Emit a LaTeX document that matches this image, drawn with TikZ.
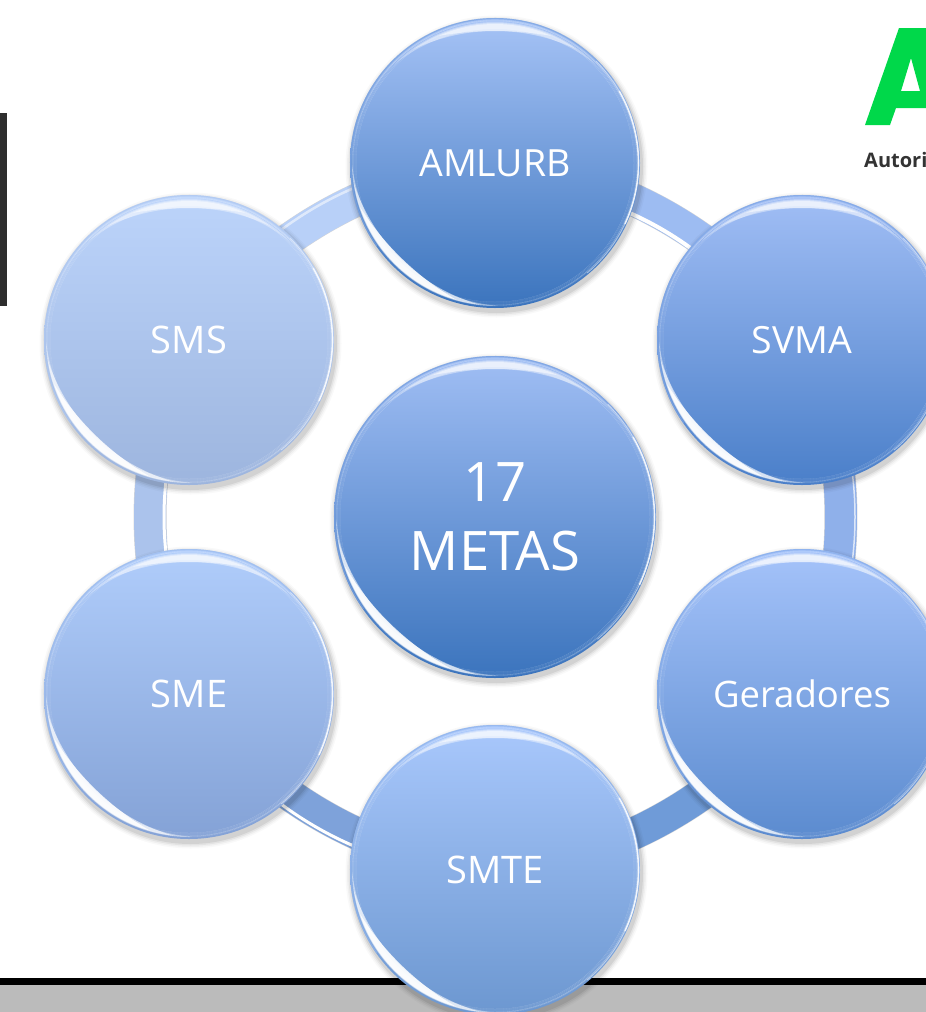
\documentclass[tikz,border=0pt]{standalone}
\usepackage{fontspec}
\setmainfont{Open Sans}
\usetikzlibrary{calc}
\definecolor{ringTL}{HTML}{B8D0F8}
\definecolor{ringTR}{HTML}{9DBCF2}
\definecolor{ringR}{HTML}{8FB0EA}
\definecolor{ringBR}{HTML}{6F9BD8}
\definecolor{ringBL}{HTML}{7EA2DA}
\definecolor{ringL}{HTML}{ABC3EC}
\definecolor{logogreen}{HTML}{00D84A}
\definecolor{edgegray}{HTML}{BBBBBB}
\definecolor{barDark}{HTML}{2E2E2E}
\tikzset{
  bubble/.style={circle,inner sep=0pt,text=white,align=center},
  ringseg/.style={line width=32pt,bend left=25,looseness=.89},
  ringshadow/.style={line width=33pt,bend left=25,looseness=.89,black,opacity=.16,xshift=2pt,yshift=-4pt},
  glow/.style={white,line cap=round},
}
% tapered crescent: #1 middle angle, #2 half span, #3 outer radius, #4 depth, #5 opacity
\newcommand{\mycrescent}[5]{%
  \pgfmathsetmacro{\myRo}{#3}%
  \pgfmathsetmacro{\myE}{(2*\myRo*(#4)*cos(#2)+(#4)*(#4))/(2*\myRo*(1-cos(#2))-2*(#4))}%
  \pgfmathsetmacro{\myC}{(#4)+\myE}%
  \pgfmathsetmacro{\myB}{\myRo+\myE}%
  \begin{scope}
    \clip (0,0) circle[radius=\myRo];
    \fill[white,opacity=#5,even odd rule] (0,0) circle[radius=\myRo] (#1+180:\myC) circle[radius=\myB];
  \end{scope}%
}
% #1 name, #2 x, #3 y, #4 r, #5 top, #6 bottom, #7 font size, #8 text
\newcommand{\mybubble}[8]{%
  \definecolor{tc}{HTML}{#5}\definecolor{bc}{HTML}{#6}%
  \pgfmathsetmacro{\myleading}{#7*1.26}%
  \foreach \e/\o in {6/.025,4.5/.035,3/.05,1.5/.07}{
    \fill[black,opacity=\o] (#2+1.5,#3+3.5) circle[radius=#4+\e];}
  \node[bubble,minimum size=2*#4 pt,top color=tc,bottom color=bc,font=\fontsize{#7}{\myleading}\selectfont] (#1) at (#2,#3) {#8};
  \begin{scope}[shift={(#2,#3)},x=1pt,y=1pt]
    \pgfmathsetmacro{\R}{#4}
    % rim
    \draw[tc!60!bc,line width=1.2pt,opacity=.7] (35:\R-.6) arc[start angle=35,end angle=215,radius=\R-.6];
    % top highlight
    \mycrescent{90}{46}{\R-4}{7}{.3}
    \mycrescent{90}{36}{\R-5}{8}{.4}
    \mycrescent{90}{24}{\R-6}{7}{.5}
    % lower-left highlight
    \mycrescent{226}{46}{\R-2}{6}{.4}
    \mycrescent{226}{38}{\R-2.5}{8}{.6}
    \mycrescent{226}{28}{\R-3}{8.5}{.85}
    % right edge
    \draw[glow,line width=.8,opacity=.5] (45:\R-1.5) arc[start angle=45,end angle=-50,radius=\R-1.5];
    \draw[glow,line width=1.6,opacity=.8] (30:\R-1.5) arc[start angle=30,end angle=-25,radius=\R-1.5];
  \end{scope}%
}
\begin{document}
\begin{tikzpicture}[x=1pt,y=-1pt]
\useasboundingbox (0,0) rectangle (926,1012);
\clip (0,0) rectangle (926,1012);
\fill[white] (0,0) rectangle (926,1012);
% page furniture
\fill[barDark] (0,113) rectangle (7,306);
\fill[edgegray] (0,985) rectangle (926,1012);
\fill[black] (0,978) rectangle (926,985);
% logo
\fill[logogreen,even odd rule] (899,28) -- (926,28) -- (926,108) -- (896,108) -- (890,125) -- (865,125) -- cycle
   (911,58) -- (901,91) -- (920,91) -- cycle;
\node[inner sep=0pt,anchor=base west,text=black!80,font=\fontsize{20}{24}\selectfont\bfseries] (logotext) at (864,167) {Autori};
% anchors for the ring
\coordinate (ringc) at (495,517);
\coordinate (pa) at (495,163);
\coordinate (pb) at (802,340);
\coordinate (pc) at (802,694);
\coordinate (pd) at (495,870);
\coordinate (pe) at (189,694);
\coordinate (pf) at (189,340);
% ring shadows
\draw[ringshadow] (pa) to (pb);
\draw[ringshadow] (pb) to (pc);
\draw[ringshadow] (pc) to (pd);
\draw[ringshadow] (pd) to (pe);
\draw[ringshadow] (pe) to (pf);
\draw[ringshadow] (pf) to (pa);
% ring
\draw[ringseg,ringTR] (pa) to (pb);
\draw[ringseg,ringR] (pb) to (pc);
\draw[ringseg,ringBR] (pc) to (pd);
\draw[ringseg,ringBL] (pd) to (pe);
\draw[ringseg,ringL] (pe) to (pf);
\draw[ringseg,ringTL] (pf) to (pa);
% ring highlights
\begin{scope}[shift={(ringc)},x=1pt,y=1pt]
  \draw[white,line width=4pt] (68:332.5) arc[start angle=68,end angle=52,radius=332.5];
  \draw[white,line width=3pt] (172:331) arc[start angle=172,end angle=188,radius=331];
  \draw[white,line width=3pt] (233:358) arc[start angle=233,end angle=248,radius=358];
  \draw[white,line width=1.5pt,opacity=.7] (-8:360) arc[start angle=-8,end angle=8,radius=360];
  \draw[white,line width=2.5pt,opacity=.55] (113:358) arc[start angle=113,end angle=128,radius=358];
\end{scope}
% bubbles
\mybubble{amlurb}{495}{163}{145}{A6C3F6}{3B74BD}{37.5}{AMLURB}
\mybubble{svma}{802}{340}{145}{A1BEF5}{4A7FC9}{37.5}{SVMA}
\mybubble{geradores}{802}{694}{145}{A5C3FA}{5B8BCF}{36.5}{Geradores}
\mybubble{smte}{495}{870}{145}{A9C8FC}{6C97D0}{38}{SMTE}
\mybubble{sme}{189}{694}{145}{B0CDFB}{84A2D6}{38}{SME}
\mybubble{sms}{189}{340}{145}{BCD4FB}{9DB5DE}{38}{SMS}
\mybubble{metas}{495}{517}{161}{A0BEF4}{3B74BD}{54.5}{17\\METAS}
\end{tikzpicture}
\end{document}
